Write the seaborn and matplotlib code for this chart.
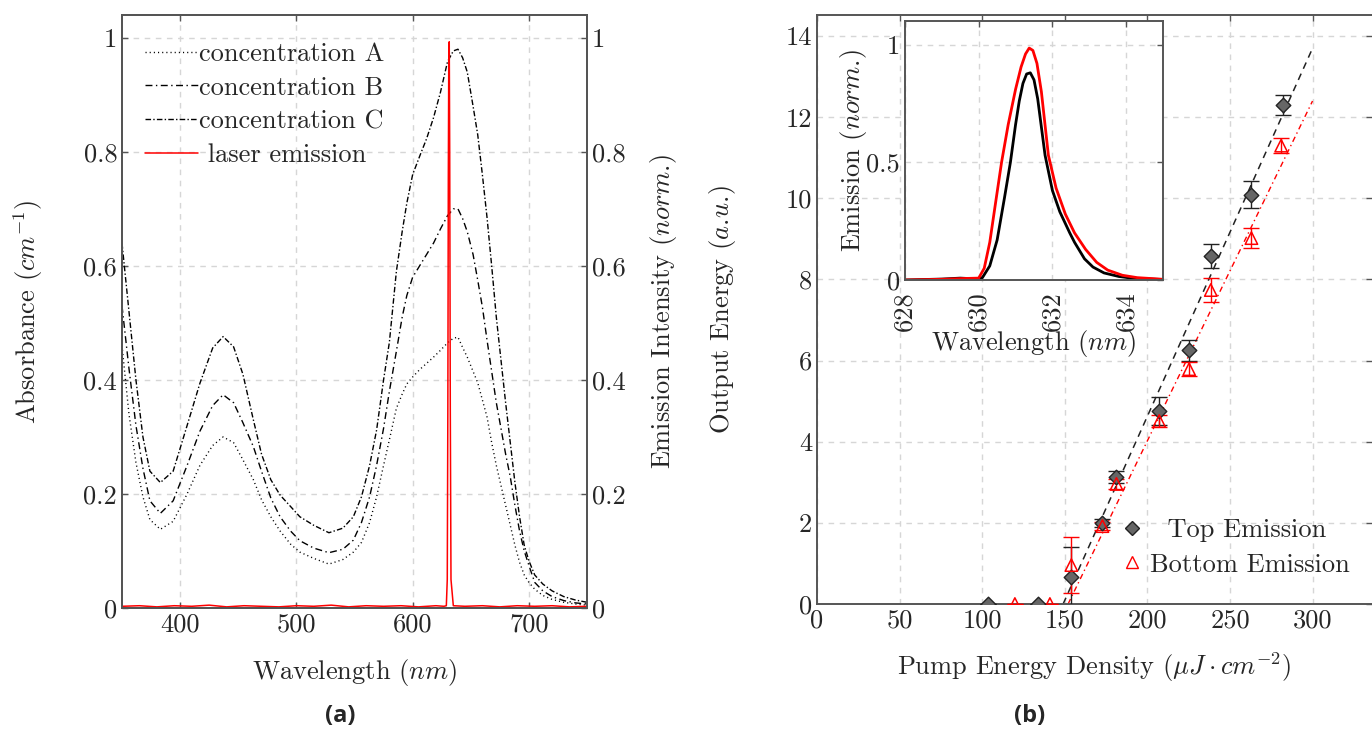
import numpy as np
import pandas as pd
import matplotlib
matplotlib.use("Agg")
import matplotlib.pyplot as plt
from matplotlib.lines import Line2D
import seaborn as sns

# ---------------- data ----------------
wl = [350, 356, 362, 368, 374, 383, 394, 406, 417, 428, 437, 446, 454, 463, 470, 478,
      486, 495, 503, 515, 528, 540, 549, 556, 563, 569, 575, 580, 586, 591, 595, 600,
      606, 612, 618, 624, 630, 635, 639, 643, 647, 652, 656, 660, 664, 668, 672, 676,
      680, 684, 688, 692, 696, 700, 705, 712, 720, 730, 740, 750]
conc_A = [0.46, 0.34, 0.255, 0.195, 0.155, 0.138, 0.152, 0.20, 0.25, 0.285, 0.30, 0.29,
          0.26, 0.225, 0.19, 0.16, 0.135, 0.112, 0.098, 0.087, 0.077, 0.085, 0.098, 0.115,
          0.15, 0.195, 0.25, 0.295, 0.35, 0.375, 0.393, 0.405, 0.418, 0.429, 0.44, 0.452,
          0.465, 0.473, 0.475, 0.457, 0.44, 0.415, 0.395, 0.365, 0.335, 0.29, 0.25, 0.215,
          0.18, 0.145, 0.11, 0.08, 0.058, 0.045, 0.033, 0.022, 0.015, 0.01, 0.007, 0.005]
conc_B = [0.53, 0.42, 0.32, 0.245, 0.188, 0.166, 0.188, 0.25, 0.31, 0.355, 0.374, 0.36,
          0.325, 0.283, 0.24, 0.193, 0.16, 0.135, 0.118, 0.105, 0.097, 0.103, 0.119, 0.15,
          0.195, 0.25, 0.315, 0.38, 0.45, 0.51, 0.548, 0.58, 0.60, 0.62, 0.64, 0.665,
          0.688, 0.70, 0.70, 0.683, 0.66, 0.62, 0.575, 0.528, 0.47, 0.415, 0.36, 0.315,
          0.27, 0.23, 0.18, 0.135, 0.10, 0.075, 0.045, 0.03, 0.02, 0.013, 0.009, 0.007]
conc_C = [0.64, 0.52, 0.40, 0.30, 0.24, 0.220, 0.24, 0.32, 0.394, 0.456, 0.476, 0.458,
          0.41, 0.33, 0.27, 0.225, 0.198, 0.178, 0.160, 0.145, 0.132, 0.140, 0.160, 0.195,
          0.25, 0.312, 0.40, 0.466, 0.59, 0.66, 0.71, 0.76, 0.792, 0.823, 0.86, 0.905,
          0.958, 0.977, 0.98, 0.965, 0.94, 0.88, 0.83, 0.76, 0.685, 0.60, 0.51, 0.435,
          0.36, 0.29, 0.22, 0.16, 0.11, 0.083, 0.058, 0.042, 0.03, 0.02, 0.014, 0.01]

laser_wl = [350, 365, 380, 395, 410, 425, 440, 455, 470, 485, 500, 515, 530, 545, 560,
            575, 590, 605, 620, 627, 629, 629.8, 630.3, 630.7, 631.1, 631.5, 631.9, 632.4,
            633, 635, 645, 660, 675, 690, 705, 720, 735, 750]
laser_I = [0.003, 0.004, 0.002, 0.004, 0.003, 0.005, 0.002, 0.004, 0.003, 0.002, 0.004,
           0.003, 0.005, 0.002, 0.004, 0.003, 0.004, 0.002, 0.004, 0.003, 0.004, 0.05,
           0.35, 0.75, 0.97, 0.993, 0.8, 0.35, 0.05, 0.004, 0.003, 0.004, 0.002, 0.004,
           0.003, 0.004, 0.002, 0.003]

# output energy vs pump
top_x = [103.5, 133.5, 154, 172.8, 181.3, 207.2, 225.3, 238.4, 263, 282]
top_y = [0.0, 0.0, 0.66, 2.0, 3.14, 4.76, 6.26, 8.58, 10.09, 12.3]
top_err = [0.0, 0.0, 0.75, 0.1, 0.15, 0.35, 0.26, 0.3, 0.34, 0.25]
bot_x = [119.8, 141, 154, 172.8, 181.3, 207.2, 225.3, 238.4, 263, 281]
bot_y = [0.0, 0.0, 0.96, 1.92, 2.96, 4.51, 5.79, 7.74, 9.02, 11.3]
bot_err = [0.0, 0.0, 0.7, 0.1, 0.12, 0.14, 0.18, 0.3, 0.25, 0.19]
fit_top_x = [149, 300]
fit_top_y = [0.0, 13.7]
fit_bot_x = [152, 300]
fit_bot_y = [0.0, 12.4]

# inset spectra
in_blk_x = [628, 629, 629.5, 629.9, 630.1, 630.3, 630.5, 630.7, 630.86, 631.0, 631.1,
            631.2, 631.3, 631.4, 631.5, 631.6, 631.8, 632.0, 632.2, 632.47, 632.6, 632.87,
            633.1, 633.4, 633.8, 634.2, 635]
in_blk_y = [0.0, 0.004, 0.008, 0.005, 0.01, 0.06, 0.17, 0.35, 0.5, 0.66, 0.76,
            0.835, 0.875, 0.88, 0.85, 0.77, 0.53, 0.38, 0.29, 0.2, 0.16, 0.09,
            0.055, 0.03, 0.015, 0.007, 0.002]
in_red_x = [628, 629, 629.5, 630.0, 630.15, 630.3, 630.45, 630.62, 630.8, 631.0, 631.15,
            631.27, 631.37, 631.47, 631.58, 631.7, 631.89, 632.1, 632.35, 632.6, 632.9,
            633.2, 633.5, 633.9, 634.3, 635]
in_red_y = [0.0, 0.003, 0.006, 0.008, 0.05, 0.16, 0.32, 0.5, 0.66, 0.81, 0.905,
            0.96, 0.985, 0.975, 0.92, 0.8, 0.53, 0.39, 0.28, 0.2, 0.13, 0.075, 0.042,
            0.02, 0.01, 0.003]

left_yticks = [0, 0.2, 0.4, 0.6, 0.8, 1.0]
left_yticklabels = ["0", "0.2", "0.4", "0.6", "0.8", "1"]
left_xticks = [400, 500, 600, 700]
right_xticks = [0, 50, 100, 150, 200, 250, 300]
right_yticks = [0, 2, 4, 6, 8, 10, 12, 14]
inset_xticks = [628, 630, 632, 634]
inset_yticks = [0, 0.5, 1.0]
inset_yticklabels = ["0", "0.5", "1"]

# ---------------- style ----------------
sns.set_style("white")
plt.rcParams["font.family"] = ["cmr10", "DejaVu Serif"]
plt.rcParams["mathtext.fontset"] = "cm"
plt.rcParams["axes.formatter.use_mathtext"] = True
plt.rcParams["axes.unicode_minus"] = False
FS = 19
SPINE = "#555555"
GRID = "#d6d6d6"
GRID_LS = (0, (4, 4))

fig = plt.figure(figsize=(13.72, 7.29), dpi=100)

def style_axes(ax):
    for s in ax.spines.values():
        s.set_color(SPINE)
        s.set_linewidth(1.4)
    ax.tick_params(direction="in", length=4, color=SPINE, labelsize=FS, width=1)

# ---------------- panel (a) ----------------
ax1 = fig.add_axes([122 / 1372, 1 - 608 / 729, 465 / 1372, 593 / 729])
ax2 = ax1.twinx()

dfs = pd.DataFrame({"wl": wl, "A": conc_A, "B": conc_B, "C": conc_C})
sns.lineplot(data=dfs, x="wl", y="A", ax=ax1, color="black", lw=1.0,
             linestyle=(0, (0.8, 2.2)), sort=False, label="concentration A", legend=False)
sns.lineplot(data=dfs, x="wl", y="B", ax=ax1, color="black", lw=1.0,
             linestyle=(0, (5, 2.5, 1, 2.5)), sort=False, label="concentration B", legend=False)
sns.lineplot(data=dfs, x="wl", y="C", ax=ax1, color="black", lw=1.0,
             linestyle=(0, (4, 1.6, 1, 1.6)), sort=False, label="concentration C", legend=False)
sns.lineplot(x=laser_wl, y=laser_I, ax=ax2, color="red", lw=1.1, sort=False,
             label=" laser emission", legend=False)

for ax in (ax1, ax2):
    ax.set_xlim(350, 750)
    ax.set_ylim(0, 1.04)
    ax.set_yticks(left_yticks)
    ax.set_yticklabels(left_yticklabels)
ax1.set_xticks(left_xticks)
ax1.set_xticklabels([str(v) for v in left_xticks])
style_axes(ax1)
style_axes(ax2)
ax1.tick_params(axis="x", top=True, bottom=True)
ax1.tick_params(axis="y", left=True, right=False)
ax2.tick_params(axis="y", left=False, right=True)
ax1.grid(True, color=GRID, ls=GRID_LS, lw=1)
ax2.grid(False)

ax1.set_xlabel("Wavelength ($nm$)", fontsize=FS)
ax1.set_ylabel("Absorbance ($cm^{-1}$)", fontsize=FS)
ax2.set_ylabel(r"Emission Intensity ($norm.\!$)", fontsize=FS)
ax1.xaxis.set_label_coords(0.5, -0.083)
ax1.yaxis.set_label_coords(-0.166, 0.5)
ax2.yaxis.set_label_coords(1.131, 0.5)

h1 = ax1.get_lines()[:3]
h2 = ax2.get_lines()[:1]
ax2.legend(handles=list(h1) + list(h2), loc="upper left", bbox_to_anchor=(0.015, 0.981),
           frameon=False, fontsize=FS, handlelength=2.0, handletextpad=0.05,
           labelspacing=0.38, borderaxespad=0.2)

# ---------------- panel (b) ----------------
ax3 = fig.add_axes([817 / 1372, 1 - 604 / 729, 555 / 1372, 589 / 729])
sns.lineplot(x=fit_top_x, y=fit_top_y, ax=ax3, color="#222222", lw=1.1,
             linestyle=(0, (4.5, 3.5)), legend=False)
sns.lineplot(x=fit_bot_x, y=fit_bot_y, ax=ax3, color="red", lw=1.0,
             linestyle=(0, (4, 2.5, 1, 2.5)), legend=False)
ax3.errorbar(top_x, top_y, yerr=top_err, fmt="none", ecolor="#222222", elinewidth=1,
             capsize=6, capthick=1, zorder=3)
ax3.errorbar(bot_x, bot_y, yerr=bot_err, fmt="none", ecolor="red", elinewidth=1,
             capsize=6, capthick=1, zorder=3)
sns.scatterplot(x=top_x, y=top_y, ax=ax3, marker="D", s=55, color="#666666",
                edgecolor="#222222", linewidth=1, zorder=4, legend=False)
sns.scatterplot(x=bot_x, y=bot_y, ax=ax3, marker="^", s=80, color="red",
                edgecolor="red", linewidth=1.1, zorder=4, legend=False)
ax3.collections[-1].set_facecolor("none")
ax3.set_xlim(0, 336)
ax3.set_ylim(0, 14.52)
ax3.set_xticks(right_xticks)
ax3.set_xticklabels([str(v) for v in right_xticks])
ax3.set_yticks(right_yticks)
ax3.set_yticklabels([str(v) for v in right_yticks])
style_axes(ax3)
ax3.spines["right"].set_visible(False)
ax3.tick_params(top=True, right=True)
ax3.grid(True, color=GRID, ls=GRID_LS, lw=1)
ax3.set_xlabel(r"Pump Energy Density ($\mu J \cdot cm^{-2}$)", fontsize=FS)
ax3.set_ylabel(r"Output Energy ($a.\!u.\!$)", fontsize=FS)
ax3.xaxis.set_label_coords(0.5, -0.078)
ax3.yaxis.set_label_coords(-0.142, 0.5)

leg_handles = [
    Line2D([], [], marker="D", ls="none", markersize=7.5, markerfacecolor="#666666",
           markeredgecolor="#222222", label="  Top Emission"),
    Line2D([], [], marker="^", ls="none", markersize=9, markerfacecolor="none",
           markeredgecolor="red", label="Bottom Emission"),
]
ax3.legend(handles=leg_handles, loc="lower right", bbox_to_anchor=(1.003, 0.006),
           frameon=False, fontsize=FS, handlelength=1.2, handletextpad=0.1,
           labelspacing=0.4)

# ---------------- inset ----------------
axi = fig.add_axes([905 / 1372, 1 - 280 / 729, 258 / 1372, 259 / 729])
axi.set_facecolor("white")
sns.lineplot(x=in_blk_x, y=in_blk_y, ax=axi, color="black", lw=2.0, sort=False)
sns.lineplot(x=in_red_x, y=in_red_y, ax=axi, color="red", lw=2.0, sort=False)
axi.set_xlim(628, 635)
axi.set_ylim(0, 1.1)
axi.set_xticks(inset_xticks)
axi.set_xticklabels([str(v) for v in inset_xticks], rotation=90)
axi.set_yticks(inset_yticks)
axi.set_yticklabels(inset_yticklabels)
style_axes(axi)
axi.tick_params(top=True, right=True)
axi.tick_params(axis="x", pad=8)
axi.grid(True, color=GRID, ls=GRID_LS, lw=1)
axi.set_xlabel("Wavelength ($nm$)", fontsize=FS)
axi.set_ylabel(r"Emission ($norm.\!$)", fontsize=FS)
axi.xaxis.set_label_coords(0.5, -0.186)
axi.yaxis.set_label_coords(-0.14, 0.5)

# panel letters
fig.text(340 / 1372, 1 - 716 / 729, "(a)", ha="center", va="center", fontsize=17,
         fontweight="bold", family="Open Sans")
fig.text(1030 / 1372, 1 - 716 / 729, "(b)", ha="center", va="center", fontsize=17,
         fontweight="bold", family="Open Sans")

fig.savefig("out.png", dpi=100)
